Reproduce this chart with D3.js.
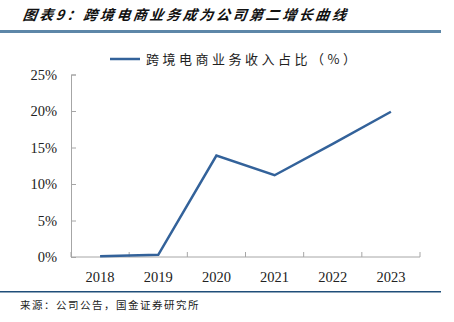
<!DOCTYPE html>
<html>
<head>
<meta charset="utf-8">
<script src="https://cdn.jsdelivr.net/npm/d3@7"></script>
<style>
  html, body { margin: 0; padding: 0; background: #fff; }
  svg { display: block; }
</style>
</head>
<body>
<svg id="chart" width="454" height="322"></svg>
<script>
// Share of cross-border e-commerce in total revenue, by year
const years = ["2018", "2019", "2020", "2021", "2022", "2023"];
const shareValues = [0.1, 0.3, 13.9, 11.2, 15.5, 19.9];
const yTicks = [0, 5, 10, 15, 20, 25];
const titleText = "图表9：跨境电商业务成为公司第二增长曲线";
const legendText = "跨境电商业务收入占比（%）";
const sourceText = "来源：公司公告，国金证券研究所";

const svg = d3.select("#chart");
const cjk = "'Noto Sans CJK SC', sans-serif";
const serif = "'Liberation Serif', 'Times New Roman', serif";

// Title
svg.append("text")
  .attr("x", 22).attr("y", 20)
  .attr("font-family", cjk)
  .attr("font-size", 14)
  .attr("font-weight", "bold")
  .attr("font-style", "italic")
  .attr("letter-spacing", 2.6)
  .attr("fill", "#111")
  .attr("transform", "skewX(-8) translate(3,0)")
  .text(titleText);

svg.append("rect")
  .attr("x", 0).attr("y", 30).attr("width", 441).attr("height", 3)
  .attr("fill", "#5d87a8");

// Plot area
const x = d3.scaleBand().domain(years).range([71, 420]);
const y = d3.scaleLinear().domain([0, 25]).range([257, 74.5]);

const axisColor = "#a6a6a6";

// Y axis
const yAxis = svg.append("g").attr("transform", "translate(71,0)")
  .call(d3.axisRight(y).tickValues(yTicks).tickSize(5).tickFormat(""));
yAxis.select(".domain").attr("stroke", axisColor);
yAxis.selectAll(".tick line").attr("stroke", axisColor);

svg.append("g").selectAll("text").data(yTicks).join("text")
  .attr("x", 57).attr("y", d => y(d) + 5)
  .attr("text-anchor", "end")
  .attr("font-family", serif)
  .attr("font-size", 14.5)
  .attr("fill", "#222")
  .text(d => d + "%");

// X axis
const xAxis = svg.append("g").attr("transform", "translate(0,257)")
  .call(d3.axisTop(x).tickSize(0).tickFormat(""));
xAxis.select(".domain").attr("stroke", axisColor).attr("d", "M71,0H420");
const boundaries = years.map(d => x(d)).concat([x.range()[1]]);
svg.append("g").selectAll("line").data(boundaries).join("line")
  .attr("x1", d => d).attr("x2", d => d)
  .attr("y1", 257).attr("y2", 252)
  .attr("stroke", axisColor);

svg.append("g").selectAll("text").data(years).join("text")
  .attr("x", d => x(d) + x.bandwidth() / 2)
  .attr("y", 282)
  .attr("text-anchor", "middle")
  .attr("font-family", serif)
  .attr("font-size", 14.5)
  .attr("fill", "#222")
  .text(d => d);

// Series line
const lineColor = "#33629a";
const line = d3.line()
  .x((d, i) => x(years[i]) + x.bandwidth() / 2)
  .y(d => y(d));
svg.append("path")
  .datum(shareValues)
  .attr("d", line)
  .attr("fill", "none")
  .attr("stroke", lineColor)
  .attr("stroke-width", 2.5)
  .attr("stroke-linejoin", "miter");

// Legend
svg.append("line")
  .attr("x1", 110).attr("x2", 140).attr("y1", 59).attr("y2", 59)
  .attr("stroke", lineColor).attr("stroke-width", 2.5);
svg.append("text")
  .attr("x", 146).attr("y", 64)
  .attr("font-family", cjk)
  .attr("font-size", 13)
  .attr("letter-spacing", 3.5)
  .attr("fill", "#222")
  .text(legendText);

// Footer
svg.append("rect")
  .attr("x", 0).attr("y", 291).attr("width", 441).attr("height", 1.5)
  .attr("fill", "#1f4e79");
svg.append("text")
  .attr("x", 20).attr("y", 309)
  .attr("font-family", cjk)
  .attr("font-size", 10.5)
  .attr("letter-spacing", 1.5)
  .attr("fill", "#222")
  .text(sourceText);
</script>
</body>
</html>
